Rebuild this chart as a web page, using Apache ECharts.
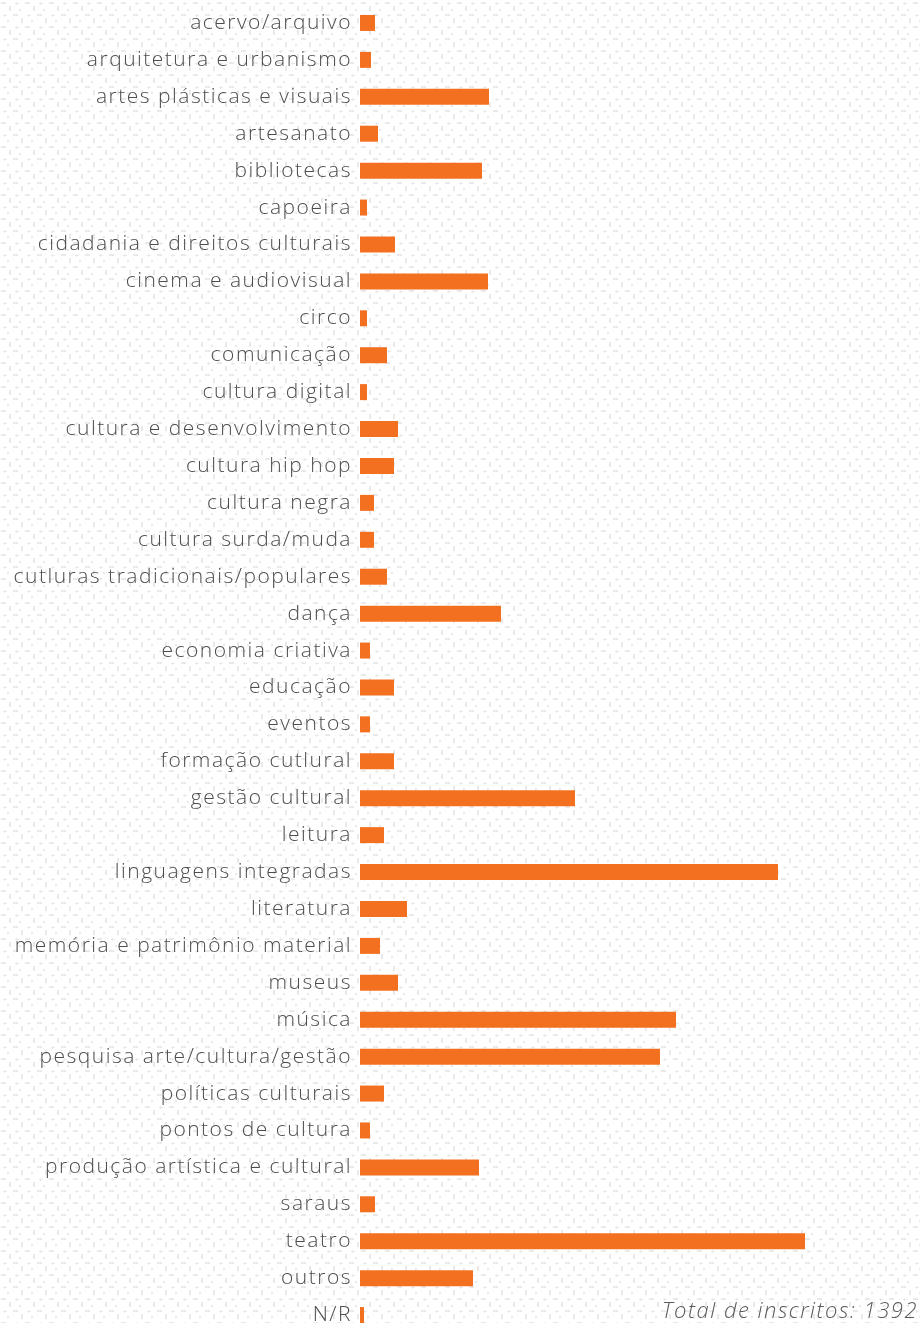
<!DOCTYPE html>
<html>
<head>
<meta charset="utf-8">
<title>Áreas de atuação</title>
<script src="https://cdn.jsdelivr.net/npm/echarts@6/dist/echarts.min.js"></script>
<style>
  html, body { margin: 0; padding: 0; background: #fff; }
  #chart { width: 920px; height: 1323px; }
</style>
</head>
<body>
<div id="chart"></div>
<script>
// Áreas de atuação declaradas pelos inscritos
const areas = [
  'acervo/arquivo', 'arquitetura e urbanismo', 'artes plásticas e visuais', 'artesanato',
  'bibliotecas', 'capoeira', 'cidadania e direitos culturais', 'cinema e audiovisual',
  'circo', 'comunicação', 'cultura digital', 'cultura e desenvolvimento',
  'cultura hip hop', 'cultura negra', 'cultura surda/muda', 'cutluras tradicionais/populares',
  'dança', 'economia criativa', 'educação', 'eventos',
  'formação cutlural', 'gestão cultural', 'leitura', 'linguagens integradas',
  'literatura', 'memória e patrimônio material', 'museus', 'música',
  'pesquisa arte/cultura/gestão', 'políticas culturais', 'pontos de cultura', 'produção artística e cultural',
  'saraus', 'teatro', 'outros', 'N/R'
];
const inscritos = [
  15, 11, 129, 18,
  122, 7, 35, 128,
  7, 27, 7, 38,
  34, 14, 14, 27,
  141, 10, 34, 10,
  34, 215, 24, 418,
  47, 20, 38, 316,
  300, 24, 10, 119,
  15, 445, 113, 4
];
const totalInscritos = 1392;

// Open, airy lettering: give every 2D context a little tracking
// (applies to both drawing and text measurement, so layout stays consistent).
const nativeGetContext = HTMLCanvasElement.prototype.getContext;
HTMLCanvasElement.prototype.getContext = function (type, opts) {
  const ctx = nativeGetContext.call(this, type, opts);
  if (type === '2d' && ctx && 'letterSpacing' in ctx) {
    ctx.letterSpacing = '1.5px';
  }
  return ctx;
};

// Background tile: small light-grey dashes and crosses
function makeTile() {
  const c = document.createElement('canvas');
  c.width = 24; c.height = 24;
  const g = c.getContext('2d');
  g.fillStyle = '#ffffff';
  g.fillRect(0, 0, 24, 24);
  g.fillStyle = '#e9e9e9';
  g.fillRect(1, 2, 5, 2);
  g.fillRect(13, 14, 5, 2);
  g.fillRect(9, 6, 2, 5);
  g.fillRect(21, 18, 2, 5);
  g.fillRect(15, 3, 4, 1); g.fillRect(16, 2, 1, 3);
  g.fillRect(3, 15, 4, 1); g.fillRect(4, 14, 1, 3);
  g.fillRect(19, 9, 2, 2);
  g.fillRect(7, 20, 2, 2);
  return c;
}

const chart = echarts.init(document.getElementById('chart'), null, { renderer: 'canvas' });

chart.setOption({
  animation: false,
  graphic: [{
    type: 'rect',
    silent: true,
    z: -10,
    shape: { x: 0, y: 0, width: 920, height: 1323 },
    style: { fill: { image: makeTile(), repeat: 'repeat' } }
  }, {
    type: 'text',
    silent: true,
    right: 2,
    bottom: 0,
    style: {
      text: 'Total de inscritos: ' + totalInscritos,
      fontFamily: 'Open Sans',
      fontStyle: 'italic',
      fontWeight: 300,
      fontSize: 22,
      fill: '#5a5a5a'
    }
  }],
  grid: {
    left: 360,
    top: 4.5,
    width: 500,
    height: 1329,
    outerBoundsMode: 'none',
    containLabel: false
  },
  xAxis: {
    type: 'value',
    min: 0,
    max: 500,
    show: false
  },
  yAxis: {
    type: 'category',
    data: areas,
    inverse: true,
    axisLine: { show: false },
    axisTick: { show: false },
    splitLine: { show: false },
    axisLabel: {
      margin: 8,
      fontFamily: 'Open Sans',
      fontWeight: 300,
      fontSize: 21,
      color: '#4d4d4d'
    }
  },
  series: [{
    type: 'bar',
    data: inscritos,
    barWidth: 16,
    itemStyle: { color: '#f37021' }
  }]
});
</script>
</body>
</html>
